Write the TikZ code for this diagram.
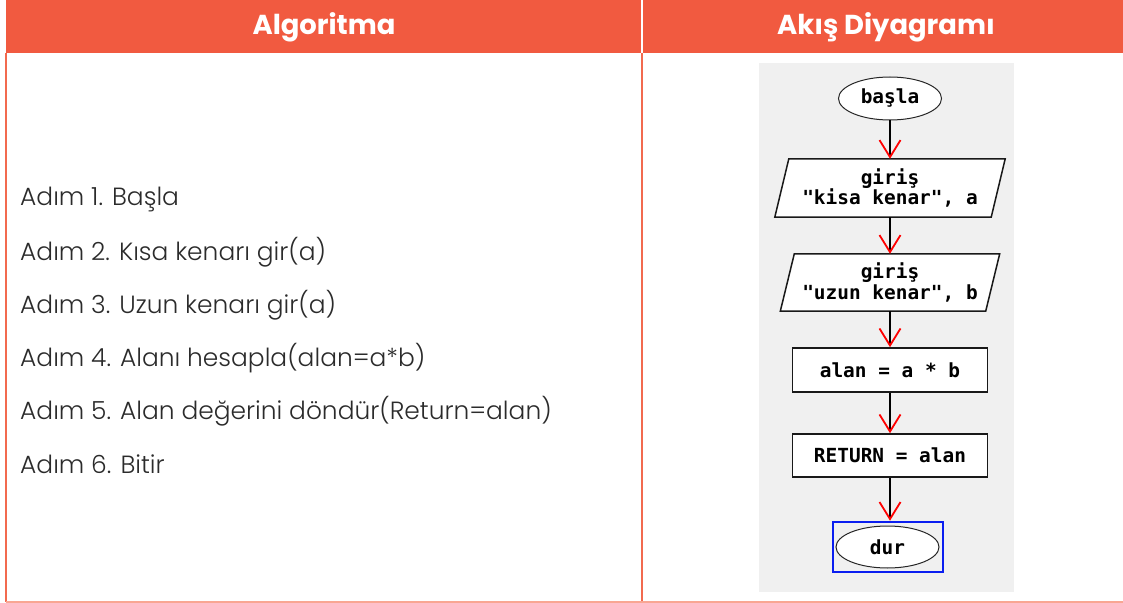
\documentclass[tikz,border=0pt]{standalone}
\usepackage{fontspec}
\usetikzlibrary{shapes.geometric,arrows.meta}
\newfontfamily\bodyfont{Poppins Light}
\newfontfamily\headfont{Poppins Bold}
\newfontfamily\monofont{DejaVu Sans Mono}
\definecolor{heador}{HTML}{F15A40}
\definecolor{lineor}{HTML}{F26A4F}
\definecolor{botor}{HTML}{F9A693}
\definecolor{bggray}{HTML}{F0F0F0}
\definecolor{txtgray}{HTML}{2B2B2B}
\definecolor{boxblue}{HTML}{0A1EF0}
\tikzset{
  headtxt/.style={text=white, font=\headfont\fontsize{27.5}{30}\selectfont, anchor=center},
  steptxt/.style={text=txtgray, font=\bodyfont\fontsize{25}{28}\selectfont, anchor=west, inner sep=0pt},
  fctxt/.style={font=\monofont\bfseries\fontsize{19.5}{20.5}\selectfont, text=black, inner sep=0pt, align=center},
  termbox/.style={fctxt, ellipse, draw=black!85, line width=1bp, fill=white},
  procbox/.style={fctxt, rectangle, draw=black!90, line width=1.6bp, fill=white},
  iobody/.style={fctxt, rectangle, draw=none},
  conn/.style={line width=2.6bp, black, -{Straight Barb[color=red, length=17bp, width=21bp, line width=1.8bp]}},
}
\begin{document}
\begin{tikzpicture}[x=1bp,y=-1bp]
\useasboundingbox (0,0) rectangle (1123,603);
% header
\fill[heador] (6,0) rectangle (1123,53);
\draw[white, line width=1.2bp] (642,0) -- (642,53);
\node[headtxt] (h1) at (324,27) {Algoritma};
\node[headtxt] (h2) at (886,27) {Akış Diyagramı};
% table lines
\draw[lineor, line width=2bp] (6,53) -- (6,602);
\draw[lineor, line width=2bp] (642,53) -- (642,602);
\draw[botor, line width=1.6bp] (6,602) -- (1123,602);
% algorithm steps
\node[steptxt] (s1) at (20,199) {Adım 1. Başla};
\node[steptxt] (s2) at (20,252) {Adım 2. Kısa kenarı gir(a)};
\node[steptxt] (s3) at (20,305) {Adım 3. Uzun kenarı gir(a)};
\node[steptxt] (s4) at (20,358) {Adım 4. Alanı hesapla(alan=a*b)};
\node[steptxt] (s5) at (20,411) {Adım 5. Alan değerini döndür(Return=alan)};
\node[steptxt] (s6) at (20,464) {Adım 6. Bitir};
% flowchart background
\fill[bggray] (759,63) rectangle (1014,592);
% flowchart
\node[termbox, minimum width=103bp, minimum height=43bp] (start) at (890,98.5) {başla};
\node[iobody, minimum width=216bp, minimum height=58bp] (in1) at (890,188) {};
\draw[black!90, line width=1.5bp, fill=white]
  ([xshift=-7bp]in1.south west) -- ([xshift=-7bp]in1.south east)
  -- ([xshift=7bp]in1.north east) -- ([xshift=7bp]in1.north west) -- cycle;
\node[iobody] (t1) at (in1.center) {giriş\\"kisa kenar", a};
\node[iobody, minimum width=205bp, minimum height=57bp] (in2) at (890,282.5) {};
\draw[black!90, line width=1.5bp, fill=white]
  ([xshift=-7bp]in2.south west) -- ([xshift=-7bp]in2.south east)
  -- ([xshift=7bp]in2.north east) -- ([xshift=7bp]in2.north west) -- cycle;
\node[iobody] (t2) at (in2.center) {giriş\\"uzun kenar", b};
\node[procbox, minimum width=195bp, minimum height=44bp] (calc) at (890,370) {alan = a * b};
\node[procbox, minimum width=195bp, minimum height=43bp] (ret) at (890,455.5) {RETURN = alan};
\node[draw=boxblue, line width=2.5bp, minimum width=110bp, minimum height=50bp, inner sep=0pt] (sel) at (888,547) {};
\node[termbox, minimum width=103bp, minimum height=42bp] (stop) at (887.5,547) {dur};
% connectors
\draw[conn] (start.south) -- (in1.north);
\draw[conn] (in1.south) -- (in2.north);
\draw[conn] (in2.south) -- (calc.north);
\draw[conn] (calc.south) -- (ret.north);
\draw[conn] (ret.south) -- (ret.south |- sel.north);
\end{tikzpicture}
\end{document}
